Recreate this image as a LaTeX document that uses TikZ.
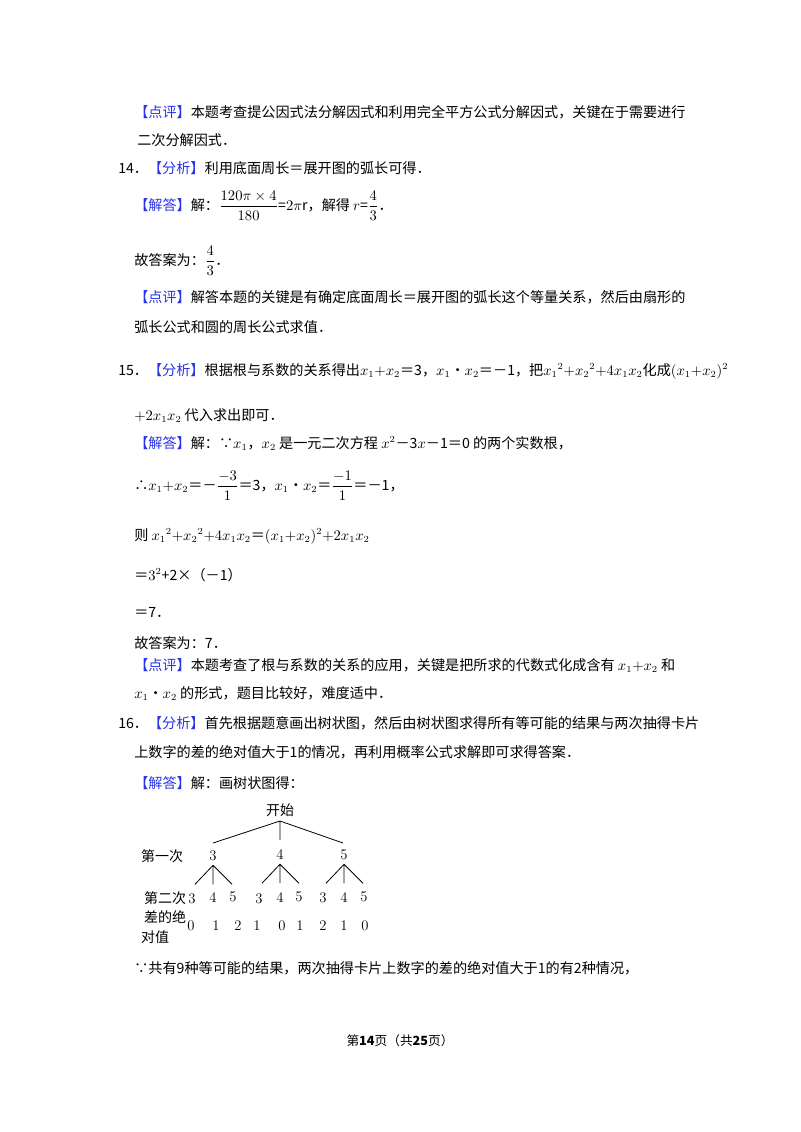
\documentclass[tikz,border=0pt]{standalone}
\usepackage{amsmath}
\usepackage{fontspec}
\newfontfamily\cjk{Noto Sans CJK SC}
\definecolor{blu}{RGB}{40,50,230}
\newcommand{\B}[1]{\textcolor{blu}{#1}}
\tikzset{t/.style={anchor=base west,inner sep=0pt,font=\cjk\fontsize{10.6}{12}\selectfont},
 tn/.style={inner sep=0pt,font=\fontsize{11}{12}\selectfont},
 tl/.style={inner sep=0pt,font=\cjk\fontsize{10.5}{11}\selectfont},
 br/.style={line width=0.6pt}}
\begin{document}
\begin{tikzpicture}[x=0.75pt,y=-0.75pt]
\useasboundingbox (0,0) rectangle (800,1132);
\node[t] (l1) at (134,117) {\B{【点评】}本题考查提公因式法分解因式和利用完全平方公式分解因式，关键在于需要进行};
\node[t] (l2) at (137,145) {二次分解因式．};
\node[t] (l3) at (118,173) {14．\B{【分析】}利用底面周长＝展开图的弧长可得．};
\node[t] (l4) at (134,210) {\B{【解答】}解：$\dfrac{120\pi\times4}{180}$=$2\pi$r，解得 $r$=$\dfrac{4}{3}$．};
\node[t] (l5) at (134,265) {故答案为：$\dfrac{4}{3}$．};
\node[t] (l6) at (134,302) {\B{【点评】}解答本题的关键是有确定底面周长＝展开图的弧长这个等量关系，然后由扇形的};
\node[t] (l7) at (134,332) {弧长公式和圆的周长公式求值．};
\node[t] (l8) at (118,375) {15．\B{【分析】}根据根与系数的关系得出$x_1{+}x_2$＝3，$x_1$•$x_2$＝－1，把${x_1}^2{+}{x_2}^2{+}4x_1x_2$化成$(x_1{+}x_2)^2$};
\node[t] (l9) at (134,420) {$+2x_1x_2$ 代入求出即可．};
\node[t] (l10) at (134,448) {\B{【解答】}解：∵$x_1$，$x_2$ 是一元二次方程 $x^2$－3$x$－1＝0 的两个实数根，};
\node[t] (l11) at (134,490) {∴$x_1{+}x_2$＝－$\dfrac{-3}{1}$＝3，$x_1$•$x_2$＝$\dfrac{-1}{1}$＝－1，};
\node[t] (l12) at (134,540) {则 ${x_1}^2{+}{x_2}^2{+}4x_1x_2$＝$(x_1{+}x_2)^2{+}2x_1x_2$};
\node[t] (l13) at (134,580) {＝$3^2$+2×（－1）};
\node[t] (l14) at (134,617) {＝7．};
\node[t] (l15) at (134,648) {故答案为：7．};
\node[t] (l16) at (134,670) {\B{【点评】}本题考查了根与系数的关系的应用，关键是把所求的代数式化成含有 $x_1{+}x_2$ 和};
\node[t] (l17) at (134,698) {$x_1$•$x_2$ 的形式，题目比较好，难度适中．};
\node[t] (l18) at (118,728) {16．\B{【分析】}首先根据题意画出树状图，然后由树状图求得所有等可能的结果与两次抽得卡片};
\node[t] (l19) at (134,757) {上数字的差的绝对值大于1的情况，再利用概率公式求解即可求得答案．};
\node[t] (l20) at (134,788) {\B{【解答】}解：画树状图得：};
% tree
\node[tl] (root) at (280,810) {开始};
\node[tl] (lab1) at (162,856) {第一次};
\node[tl] (lab2) at (165,898) {第二次};
\node[tl] (lab3) at (165,917) {差的绝};
\node[tl] (lab4) at (155,937) {对值};
\node[tn] (a) at (213,856) {3};
\node[tn] (b) at (280,855) {4};
\node[tn] (c) at (344,855) {5};
\coordinate (r0) at (280,821);
\draw[br] (r0) -- (213,843) (r0) -- (280,840) (r0) -- (343,843);
\foreach \p in {a,b,c}{
  \draw[br] (\p.south) ++(0,4) coordinate (s\p) -- ++(-18,19) (s\p) -- ++(0,19) (s\p) -- ++(19,19);
}
\foreach \x/\v/\y [count=\i] in {192/3/899,213/4/898,233/5/897,259/3/899,280/4/898,299/5/897,323/3/898,344/4/898,364/5/897}{
  \node[tn] (m\i) at (\x,\y) {\v};
}
\foreach \x/\v [count=\i] in {191/0,216/1,238/2,257/1,282/0,300/1,323/2,344/1,365/0}{
  \node[tn] (d\i) at (\x,926) {\v};
}
\node[t] (l21) at (134,973) {∵共有9种等可能的结果，两次抽得卡片上数字的差的绝对值大于1的有2种情况，};
\node[inner sep=0pt,font=\cjk\fontsize{9.5}{10}\selectfont] (foot) at (400,1041) {第\textbf{14}页（共\textbf{25}页）};
\end{tikzpicture}
\end{document}
